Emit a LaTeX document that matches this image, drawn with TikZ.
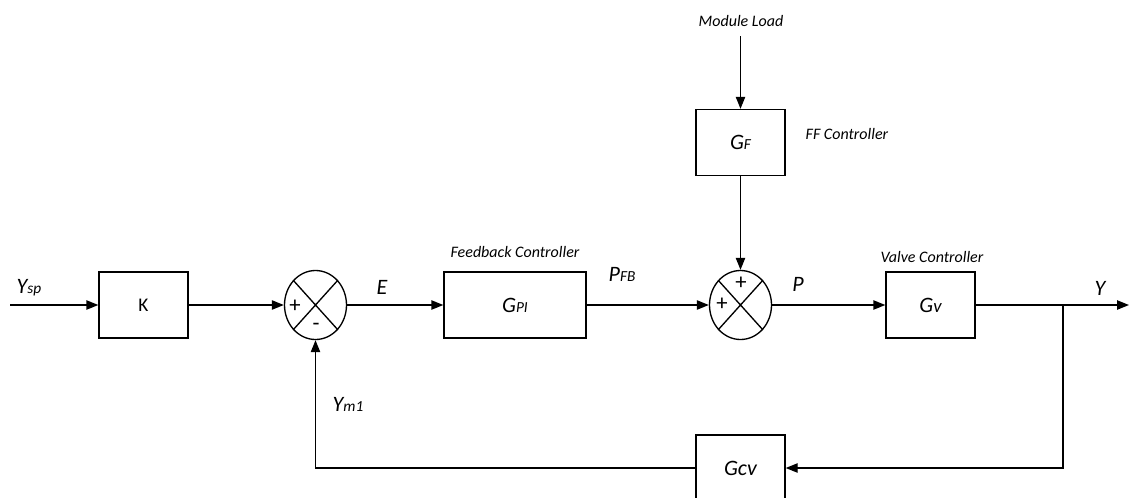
\documentclass[tikz,border=0pt]{standalone}
\usepackage{fontspec}
\setmainfont{Carlito}
\usetikzlibrary{positioning, shapes.geometric, arrows.meta}

\newcommand{\lsub}[1]{{\fontsize{11.5}{13}\selectfont #1}}

\tikzset{
    blk/.style={rectangle, draw, line width=1pt, minimum width=#1, minimum height=49.5pt, inner sep=0pt},
    sumj/.style={ellipse, draw, line width=1pt, minimum width=46.5pt, minimum height=51.75pt, inner sep=0pt},
    sgn/.style={inner sep=0pt, font=\fontsize{17}{19}\selectfont},
    sig/.style={-{Triangle[length=9pt,width=7pt]}, line width=1pt},
    lbl/.style={inner sep=0pt, font=\fontsize{16.5}{18}\selectfont\itshape},
    note/.style={inner sep=0pt, font=\fontsize{12}{14}\selectfont\itshape}
}

\begin{document}
\begin{tikzpicture}[x=0.75pt, y=-0.75pt, line width=1pt]
    \useasboundingbox (0,0) rectangle (1130,497);

    % blocks
    \node[blk=66.75pt, font=\fontsize{14.5}{16}\selectfont] (k) at (143.5,305) {K};
    \node[sumj] (s1) at (315.5,305) {};
    \node[blk=106.5pt, lbl] (gpi) at (515,305) {G\lsub{PI}};
    \node[sumj] (s2) at (740.5,305) {};
    \node[blk=66.75pt, lbl] (gf) at (740.5,142.5) {G\lsub{F}};
    \node[blk=66.75pt, lbl] (gv) at (930.5,305) {G{\fontsize{14}{16}\selectfont v}};
    \node[blk=66.75pt, lbl] (gcv) at (740.5,468) {Gcv};

    % summing junctions
    \draw (s1.north west) -- (s1.south east) (s1.north east) -- (s1.south west);
    \draw (s2.north west) -- (s2.south east) (s2.north east) -- (s2.south west);
    \node[sgn] (s1a) at (295,306) {+};
    \node[sgn] (s1b) at (316,327) {-};
    \node[sgn] (s2a) at (741,283) {+};
    \node[sgn] (s2b) at (722,304) {+};

    % texts
    \node[lbl, anchor=base west] (ysp) at (16,293) {Y\lsub{sp}};
    \node[lbl, anchor=base] (e) at (382,294) {E};
    \node[note, anchor=base] (fbc) at (515,257) {Feedback Controller};
    \node[lbl, anchor=base] (pfb) at (622,281) {P\lsub{FB}};
    \node[note, anchor=base] (mload) at (741,26.7) {Module Load};
    \node[note, anchor=base west] (ffc) at (805,139) {FF Controller};
    \node[lbl, anchor=base] (p) at (798,291) {P};
    \node[note, anchor=base] (vc) at (932,262) {Valve Controller};
    \node[lbl, anchor=base] (y) at (1100,295) {Y};
    \node[lbl, anchor=base west] (ym) at (332,411) {Y\lsub{m1}};

    % connectors
    \coordinate (in) at (10,305);
    \coordinate (ml) at (740.5,36);
    \coordinate (br) at (1063,305);
    \coordinate (out) at (1129,305);
    \draw[sig] (in) -- (k);
    \draw[sig] (k) -- (s1);
    \draw[sig] (s1) -- (gpi);
    \draw[sig] (gpi) -- (s2);
    \draw[sig] (ml) -- (gf);
    \draw[sig] (gf) -- (s2);
    \draw[sig] (s2) -- (gv);
    \draw[sig] (gv) -- (out);
    \draw[sig] (br) |- (gcv);
    \draw[sig] (gcv) -| (s1);
\end{tikzpicture}
\end{document}
